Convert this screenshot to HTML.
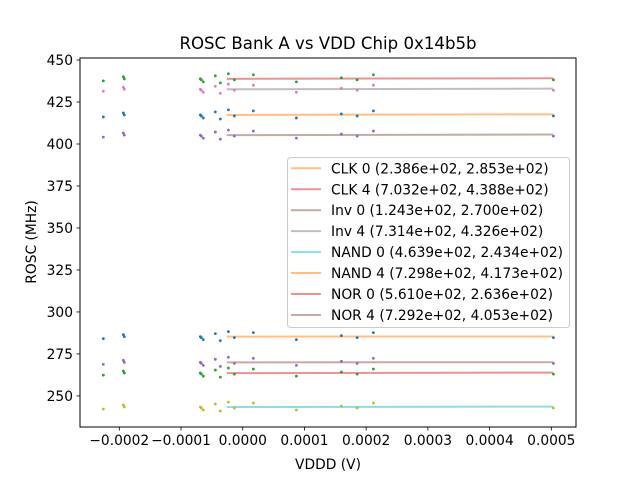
<!DOCTYPE html>
<html><head><meta charset="utf-8"><style>
html,body{margin:0;padding:0;background:#fff}
svg{display:block;font-family:"DejaVu Sans","Liberation Sans",sans-serif}
</style></head><body>
<svg id="chart" width="640" height="480" viewBox="0 0 640 480">
<rect width="640" height="480" fill="#fff"/>
<text x="328" y="49" text-anchor="middle" font-size="16.6" fill="#000">ROSC Bank A vs VDD Chip 0x14b5b</text>
<g id="plot"></g>
</svg>
<script>
const xVolts = [-0.0002259,-0.0001935,-0.0001919,-0.0000687,-0.0000671,-0.0000639,-0.0000444,-0.0000363,-0.0000233,-0.0000136,0.0000172,0.0000869,0.0001598,0.0001854,0.0002117,0.0005034];
const seriesNames = ["CLK 0","CLK 4","Inv 0","Inv 4","NAND 0","NAND 4","NOR 0","NOR 4"];
const slopes = [238.6,703.2,124.3,731.4,463.9,729.8,561.0,729.2];
const intercepts = [285.3,438.8,270.0,432.6,243.4,417.3,263.6,405.3];
const clk0 = [284.1,286.5,285.3,285.3,284.7,283.5,287.1,282.9,288.3,284.7,287.7,283.5,285.9,284.7,287.7,284.7];
const clk4 = [437.6,440.0,438.8,438.8,438.2,437.0,440.6,436.4,441.8,438.2,441.2,437.0,439.4,438.2,441.2,438.2];
const inv0 = [268.8,271.2,270.0,270.0,269.4,268.2,271.8,267.6,273.0,269.4,272.4,268.2,270.6,269.4,272.4,269.4];
const inv4 = [431.4,433.8,432.6,432.6,432.0,430.8,434.4,430.2,435.6,432.0,435.0,430.8,433.2,432.0,435.0,432.0];
const nand0 = [242.2,244.6,243.4,243.4,242.8,241.6,245.2,241.0,246.4,242.8,245.8,241.6,244.0,242.8,245.8,242.8];
const nand4 = [416.1,418.5,417.3,417.3,416.7,415.5,419.1,414.9,420.3,416.7,419.7,415.5,417.9,416.7,419.7,416.7];
const nor0 = [262.4,264.8,263.6,263.6,263.0,261.8,265.4,261.2,266.6,263.0,266.0,261.8,264.2,263.0,266.0,263.0];
const nor4 = [404.1,406.5,405.3,405.3,404.7,403.5,407.1,402.9,408.3,404.7,407.7,403.5,405.9,404.7,407.7,404.7];
const fitRange = [-0.000026,0.000503];
const xTicks = [-0.0002,-0.0001,0,0.0001,0.0002,0.0003,0.0004,0.0005];
const xTickLabels = ["\u22120.0002","\u22120.0001","0.0000","0.0001","0.0002","0.0003","0.0004","0.0005"];
const yTicks = [250,275,300,325,350,375,400,425,450];

const allPts = [clk0,clk4,inv0,inv4,nand0,nand4,nor0,nor4];
const ptColors = ["#1f77b4","#2ca02c","#9467bd","#e377c2","#bcbd22","#1f77b4","#2ca02c","#9467bd"];
const lineColors = ["#ff7f0e","#d62728","#8c564b","#7f7f7f","#17becf","#ff7f0e","#d62728","#8c564b"];

const L=80,R=576,T=58,B=427;
const xMin=-0.0002637,xMax=0.000540,yMin=231.5,yMax=451.2;
const X=v=>L+(v-xMin)/(xMax-xMin)*(R-L);
const Y=v=>B-(v-yMin)/(yMax-yMin)*(B-T);
const NS="http://www.w3.org/2000/svg";
const g=document.getElementById('plot');
function mk(tag,attrs,parent){const e=document.createElementNS(NS,tag);for(const k in attrs)e.setAttribute(k,attrs[k]);(parent||g).appendChild(e);return e;}

lineColors.forEach((c,i)=>{
  const l=mk('line',{x1:X(fitRange[0]),x2:X(fitRange[1]),y1:Y(intercepts[i]+slopes[i]*fitRange[0]),y2:Y(intercepts[i]+slopes[i]*fitRange[1]),stroke:c,'stroke-width':2,'stroke-opacity':0.5});
  
  
});
allPts.forEach((arr,i)=>{
  arr.forEach((v,j)=>{
    const p=mk('circle',{cx:X(xVolts[j]),cy:Y(v),r:1.4,fill:ptColors[i]});
    
    
  });
});
const fr=mk('rect',{x:L,y:T,width:R-L,height:B-T,fill:'none',stroke:'#000','stroke-width':1});


xTicks.forEach((t,i)=>{
  const x=X(t);
  mk('line',{x1:x,x2:x,y1:B,y2:B+3.5,stroke:'#000','stroke-width':0.8});
  const tx=mk('text',{x:x,y:B+18,'text-anchor':'middle','font-size':13.8,fill:'#000'});
  tx.textContent=xTickLabels[i];
  
  
});
yTicks.forEach(t=>{
  const y=Y(t);
  mk('line',{x1:L-3.5,x2:L,y1:y,y2:y,stroke:'#000','stroke-width':0.8});
  const tx=mk('text',{x:L-7,y:y+5,'text-anchor':'end','font-size':13.8,fill:'#000'});
  tx.textContent=t;
  
  
});
const xl=mk('text',{x:328,y:469,'text-anchor':'middle','font-size':13.8,fill:'#000'});
xl.textContent='VDDD (V)';


const yl=mk('text',{x:0,y:0,'text-anchor':'middle','font-size':13.8,fill:'#000',transform:'translate(36,242) rotate(-90)'});
yl.textContent='ROSC (MHz)';


const lg=mk('g',{});


mk('rect',{x:287.5,y:157.5,width:282,height:170,rx:3,fill:'#fff','fill-opacity':0.8,stroke:'#ccc','stroke-width':1},lg);
seriesNames.forEach((n,i)=>{
  const cy=168.3+i*20.95;
  const e=mk('g',{},lg);
  
  
  mk('line',{x1:291,x2:321,y1:cy,y2:cy,stroke:lineColors[i],'stroke-width':2,'stroke-opacity':0.5},e);
  const t=mk('text',{x:331,y:cy+5,'font-size':13.8,fill:'#000'},e);
  t.textContent=n+' ('+slopes[i].toExponential(3).replace('e+','e+0')+', '+intercepts[i].toExponential(3).replace('e+','e+0')+')';
});
</script>
</body></html>
